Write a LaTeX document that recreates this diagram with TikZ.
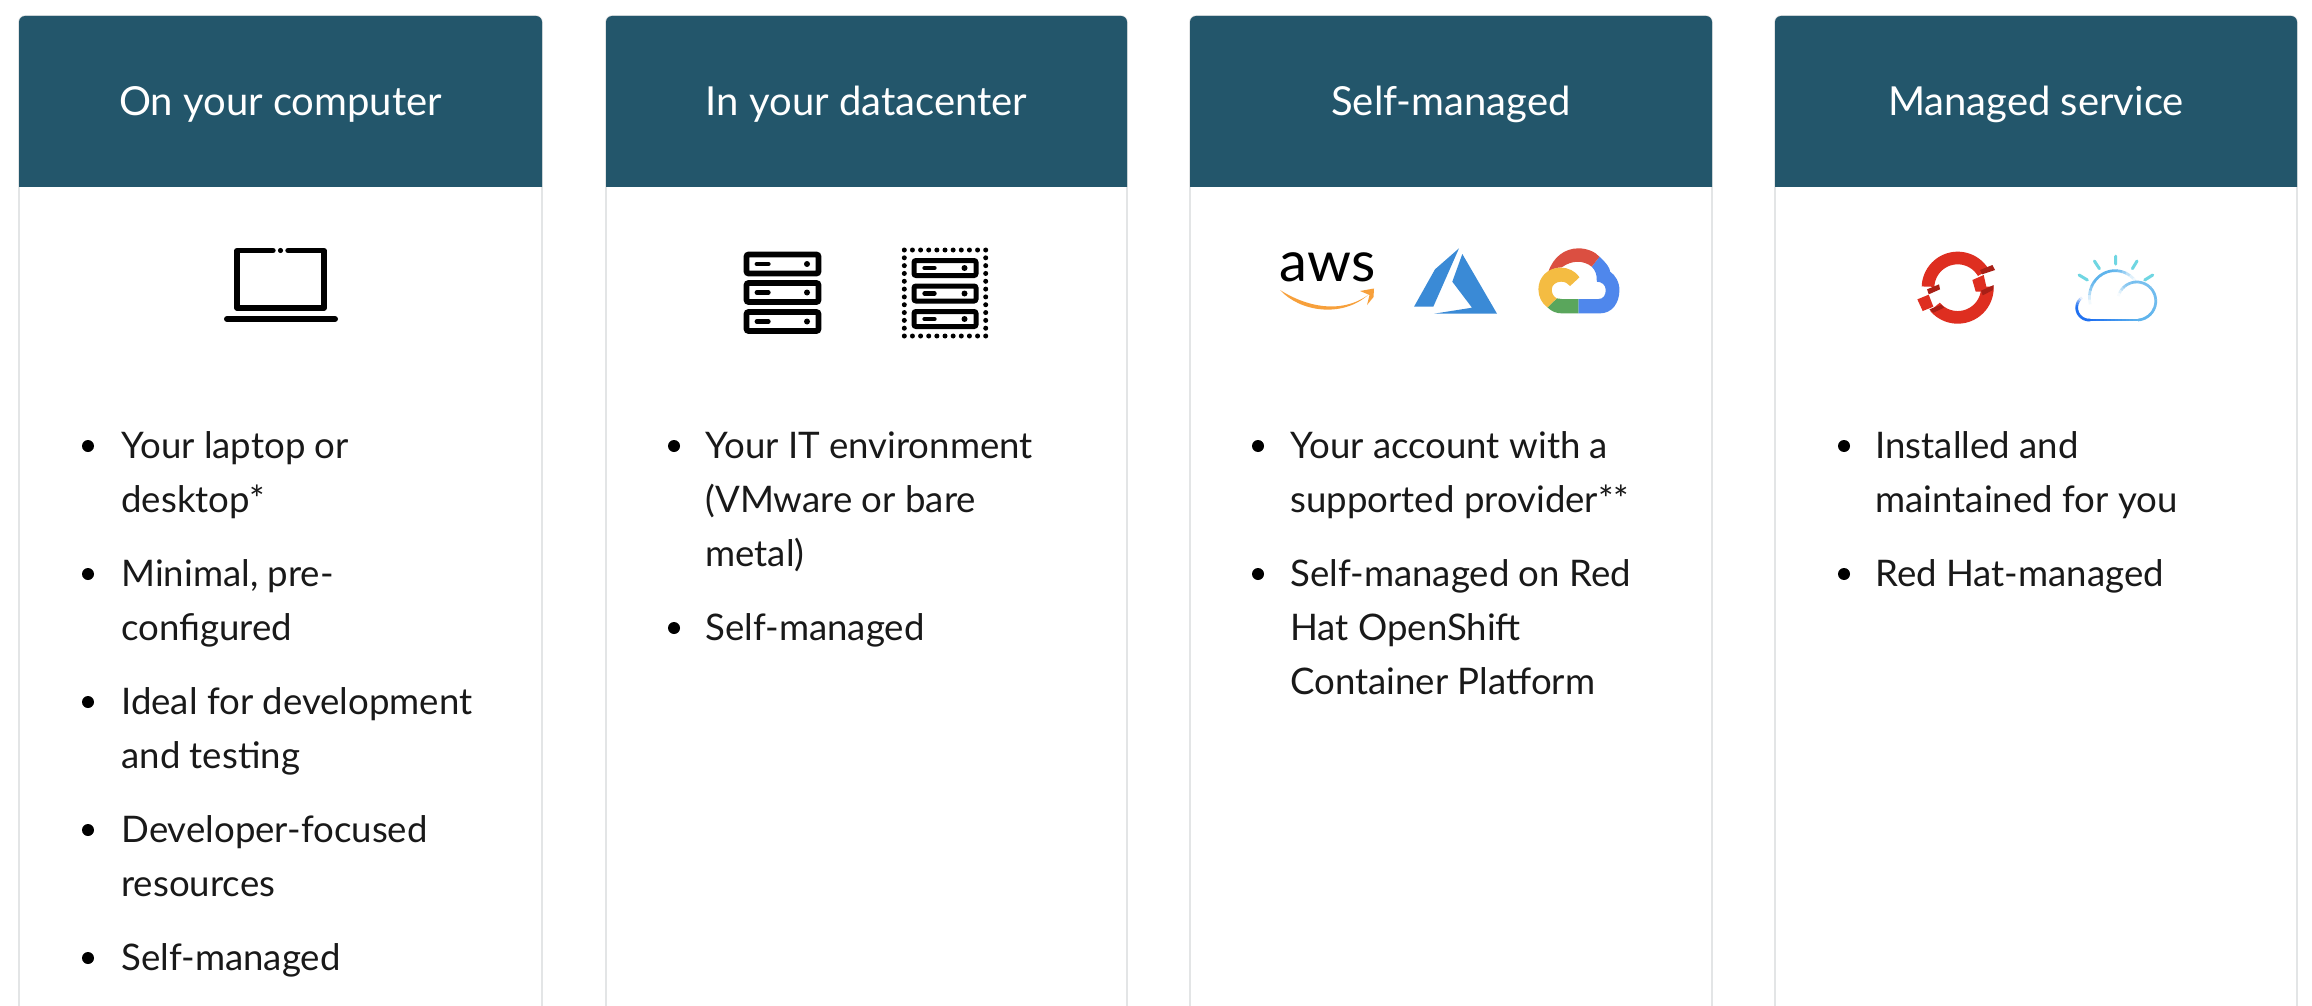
\documentclass[tikz,border=0pt]{standalone}
\usepackage{fontspec}
\setmainfont{Lato}
\definecolor{hdr}{HTML}{23566B}
\definecolor{edge}{HTML}{E3E5E6}
\definecolor{awsorange}{HTML}{F7A03B}
\definecolor{azureblue}{HTML}{3A8AD6}
\definecolor{gred}{HTML}{DB4F41}
\definecolor{gblue}{HTML}{4F87EC}
\definecolor{gyellow}{HTML}{F4BC42}
\definecolor{ggreen}{HTML}{5AA65C}
\definecolor{rhred}{HTML}{DE2E20}
\definecolor{rhdark}{HTML}{A81F16}
\definecolor{ibmray}{HTML}{6FD6E2}
\definecolor{ibmlight}{HTML}{5FB4EC}
\definecolor{ibmblue}{HTML}{1F70F0}
\newcommand{\cardbox}[4]{% name, x0, x1, title
  \fill[white] (#2,16) rectangle (#3,1006);
  \draw[cardedge,rounded corners=3pt] (#2,1040) -- (#2,16) -- (#3,16) -- (#3,1040);
  \fill[hdr,rounded corners=3pt] (#2,260) -- (#2,16) -- (#3,16) -- (#3,260) -- cycle;
  \fill[white] (#2,187) rectangle (#3,280);
  \draw[cardedge] (#2,187) -- (#2,290) (#3,187) -- (#3,290);
  \node[title] (#1) at ({(#2+#3)/2},116) {#4};
}
\newcommand{\bul}[5]{% name, bullet x, text x, baseline, text
  \fill (#2,#4-12) circle[radius=6];
  \node[itemtext] (#1) at (#3,#4-37.8) {\strut #5};
}
\newcommand{\rackunit}[5]{% x0,x1,ymid,half height,scale stroke
  \draw[black,line width=#5*0.5pt,rounded corners=1pt] (#1,#3-#4) rectangle (#2,#3+#4);
  \draw[black,line width=#5*0.44pt,line cap=round] (#1+10.5,#3) -- (#1+10.5+#5*2,#3);
  \fill (#2-11.5,#3) circle[radius=3];
}
% elliptical stroke piece, in crop coordinates: cx,cy,rx,ry,from,to,colour
\newcommand{\cseg}[7]{\draw[#7,line width=1.35pt] plot[domain=#5:#6,samples=4] ({#1+#3*cos(\x)},{#2-#4*sin(\x)});}
% ring sector: from, to
\newcommand{\ringsec}[2]{\fill[rhred] plot[domain=#1:#2,samples=40] ({233+108*cos(\x)},{173-108*sin(\x)}) -- plot[domain=#2:#1,samples=40] ({233+70*cos(\x)},{173-70*sin(\x)}) -- cycle;}
\tikzset{
  x=0.5pt,y=-0.5pt,
  cardedge/.style={edge,line width=0.8pt},
  title/.style={anchor=base,text=white,inner sep=0,font=\fontsize{20}{24}\selectfont},
  itemtext/.style={anchor=north west,inner sep=0,align=left,text=black!90,font=\fontsize{18.3}{27}\selectfont},
}
\begin{document}
\begin{tikzpicture}
\useasboundingbox (0,0) rectangle (2312,1006);
\fill[white] (0,0) rectangle (2312,1006);
\cardbox{t1}{19}{542}{On your computer}
\cardbox{t2}{606}{1127}{In your datacenter}
\cardbox{t3}{1190}{1712}{Self-managed}
\cardbox{t4}{1775}{2297}{Managed service}
% card 1 list
\bul{a1}{88}{121}{458}{Your laptop or\\desktop*}
\bul{a2}{88}{121}{586}{Minimal, pre-\\configured}
\bul{a3}{88}{121}{714}{Ideal for development\\and testing}
\bul{a4}{88}{121}{842}{Developer-focused\\resources}
\bul{a5}{88}{121}{970}{Self-managed}
% card 2 list
\bul{b1}{674}{705}{458}{Your IT environment\\(VMware or bare\\metal)}
\bul{b2}{674}{705}{640}{Self-managed}
% card 3 list
\bul{c1}{1258}{1290}{458}{Your account with a\\supported provider**}
\bul{c2}{1258}{1290}{586}{Self-managed on Red\\Hat OpenShift\\Container Platform}
% card 4 list
\bul{d1}{1844}{1875}{458}{Installed and\\maintained for you}
\bul{d2}{1844}{1875}{586}{Red Hat-managed}
% laptop
\draw[black,line width=2.7pt,line cap=round,line join=round] (273,250.5) -- (237,250.5) -- (237,308) -- (324,308) -- (324,250.5) -- (288,250.5);
\fill (280.5,250.5) circle[radius=2.6];
\draw[black,line width=3pt,line cap=round] (227,319) -- (335,319);
% rack
\rackunit{746.5}{818.5}{264}{9.5}{5.6}
\rackunit{746.5}{818.5}{292.5}{9.5}{5.6}
\rackunit{746.5}{818.5}{321.5}{9.5}{5.6}
% dotted rack
\rackunit{914}{976}{268}{7.5}{5}
\rackunit{914}{976}{293.5}{7.5}{5}
\rackunit{914}{976}{319}{7.5}{5}
\foreach \i in {0,...,10} {
  \fill (904.3+\i*8.14,250) circle[radius=2.5];
  \fill (904.3+\i*8.14,336) circle[radius=2.5];
}
\foreach \i in {1,...,10} {
  \fill (904.3,250+\i*7.82) circle[radius=2.5];
  \fill (985.7,250+\i*7.82) circle[radius=2.5];
}
% aws
\node[anchor=base,inner sep=0,font=\fontsize{28}{30}\selectfont] (aws) at (1327.5,281) {aws};
\fill[awsorange] (1280,290) .. controls (1305,306) and (1340,315) .. (1368,295) .. controls (1342,318) and (1300,312) .. cycle;
\fill[awsorange] (1360,291) -- (1374,288.5) -- (1373.5,297) -- (1367,305) -- (1369.5,295) -- cycle;
% azure
\fill[azureblue] (1459,248.3) -- (1435,269.3) -- (1414,306.7) -- (1433.3,306.7) -- cycle;
\fill[azureblue] (1462.3,254) -- (1497,313.7) -- (1434,313.7) -- (1472,307.7) -- (1452.3,281.7) -- cycle;
% google cloud (drawn in 3x crop coordinates)
\begin{scope}[shift={(1260,230)},x=0.1667pt,y=-0.1667pt]
\fill[gblue] (1018,80) .. controls (1040,100) and (1050,115) .. (1050,125) .. controls (1065,135) and (1078,155) .. (1078,180) .. controls (1078,220) and (1055,250) .. (1020,250) -- (955,250) -- (955,207) -- (1015,207) .. controls (1030,207) and (1037,195) .. (1037,180) .. controls (1037,165) and (1025,155) .. (1010,155) .. controls (1012,135) and (1005,120) .. (995,110) -- cycle;
\fill[gred] (865,125) .. controls (880,80) and (915,55) .. (955,55) .. controls (980,55) and (1005,65) .. (1018,80) -- (995,110) .. controls (970,90) and (935,90) .. (905,112) .. controls (890,112) and (875,118) .. (865,125) -- cycle;
\fill[ggreen] (862,232) -- (890,205) .. controls (895,207) and (900,207) .. (905,207) -- (955,207) -- (955,250) -- (905,250) .. controls (890,250) and (875,245) .. (862,232) -- cycle;
\fill[gyellow] (958,142) .. controls (945,122) and (925,113) .. (900,113) .. controls (865,113) and (835,140) .. (835,178) .. controls (835,200) and (845,220) .. (862,232) -- (890,205) .. controls (880,200) and (875,190) .. (875,178) .. controls (875,165) and (888,155) .. (903,155) .. controls (915,155) and (923,160) .. (930,168) -- cycle;
\end{scope}
% red hat openshift ring (3x crop coordinates)
\begin{scope}[shift={(1880,230)},x=0.1667pt,y=-0.1667pt]
\ringsec{30}{178}
\ringsec{-140}{2}
\fill[rhred] (112,208) -- (146,194) -- (160,230) -- (128,243) -- cycle;
\fill[rhred] (277,150) -- (311,135) -- (322,184) -- (287,185) -- cycle;
\fill[rhdark] (141,178) -- (177,163) -- (180,178) -- (146,193) -- cycle;
\fill[rhdark] (300,120) -- (337,105) -- (345,120) -- (306,133) -- cycle;
\fill[rhdark] (148,238) -- (184,224) -- (192,233) -- (160,248) -- cycle;
\fill[rhdark] (303,182) -- (341,165) -- (339,180) -- (308,196) -- cycle;
\end{scope}
% ibm cloud (3x crop coordinates)
\begin{scope}[shift={(1880,230)},x=0.1667pt,y=-0.1667pt]
\draw[ibmray,line width=1.5pt,line cap=round] (707,78) -- (707,102) (643,93) -- (658,116) (771,93) -- (757,116) (597,135) -- (622,150) (818,135) -- (794,150);
% top-left lobe fading at both ends
\foreach \a/\m in {195/8,185/25,175/50,165/75,155/90,145/100,135/100,125/100,115/100,105/100,95/95,85/85,75/65,65/40,55/20,45/8} {
  \pgfmathsetmacro{\b}{\a-11}
  \cseg{705}{202}{77}{80}{\a}{\b}{ibmlight!\m!white}
}
% right lobe
\foreach \a/\m in {165/5,155/20,145/45,135/65,125/75,115/80,105/85,95/85,85/85,75/85,65/85,55/85,45/85,35/90,25/90,15/90,5/90,-5/90,-15/92,-25/95,-35/97,-45/100,-55/100,-65/100,-75/100} {
  \pgfmathsetmacro{\b}{\a-11}
  \cseg{770}{213}{57}{57}{\a}{\b}{ibmlight!\m!white}
}
% bottom line, from deep blue to light
\foreach \i in {0,...,13} {
  \pgfmathsetmacro{\m}{100-\i*7.5}
  \draw[ibmblue!\m!ibmlight,line width=1.35pt] (627+\i*11,270) -- (640+\i*11,270);
}
% left lobe
\foreach \a/\m in {125/10,135/35,145/60,155/80,165/95,175/100,185/100,195/100,205/100,215/100,225/100,235/100,245/100,255/100,265/100} {
  \pgfmathsetmacro{\b}{\a+11}
  \cseg{627}{233}{37}{37}{\a}{\b}{ibmblue!\m!white}
}
\end{scope}
\end{tikzpicture}
\end{document}
